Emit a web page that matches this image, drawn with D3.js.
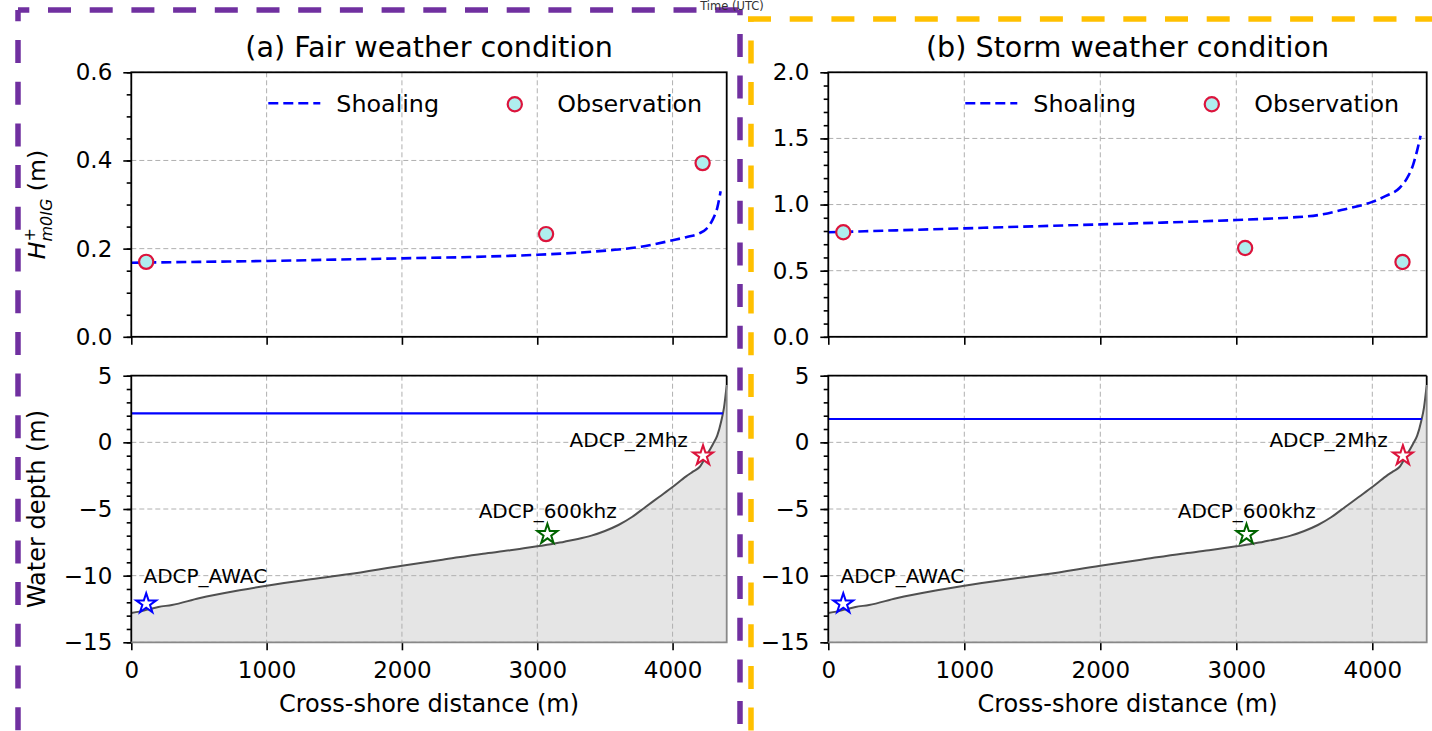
<!DOCTYPE html>
<html>
<head>
<meta charset="utf-8">
<script src="https://cdn.jsdelivr.net/npm/d3@7"></script>
<style>
  body { margin: 0; background: #fff; }
  svg { display: block; font-family: "DejaVu Sans", sans-serif; }
</style>
</head>
<body>
<div id="fig"></div>
<script>
// beach profile along the transect
var bathyX = [0, 60, 120, 200, 300, 500, 800, 1000, 1300, 1600, 2000, 2300, 2600, 2800, 2900, 3000, 3100, 3200, 3300, 3400, 3500, 3600, 3700, 3800, 3900, 4000, 4100, 4150, 4200, 4250, 4300, 4330, 4360, 4380, 4400];
var bathyZ = [-12.8, -12.7, -12.55, -12.35, -12.2, -11.7, -11.1, -10.75, -10.3, -9.9, -9.25, -8.8, -8.35, -8.1, -7.95, -7.8, -7.65, -7.45, -7.25, -7.0, -6.65, -6.2, -5.6, -4.85, -4.1, -3.35, -2.55, -2.2, -1.85, -1.0, -0.1, 0.5, 1.6, 2.6, 4.3];

// shoaling estimate of Hm0 IG
var shoalX = [0, 500, 1000, 1500, 2000, 2500, 3000, 3200, 3400, 3600, 3800, 4000, 4100, 4200, 4250, 4300, 4330, 4355];
var shoalFair = [0.168, 0.170, 0.172, 0.175, 0.178, 0.181, 0.186, 0.189, 0.193, 0.198, 0.206, 0.219, 0.226, 0.235, 0.245, 0.268, 0.292, 0.33];
var shoalStorm = [0.79, 0.805, 0.82, 0.835, 0.85, 0.865, 0.883, 0.892, 0.902, 0.92, 0.965, 1.02, 1.065, 1.125, 1.19, 1.30, 1.41, 1.52];

// observed Hm0 IG at the three ADCPs
var obsX = [110, 3065, 4222];
var obsFair = [0.17, 0.233, 0.394];
var obsStorm = [0.79, 0.672, 0.566];

var waterLevel = [2.17, 1.75];

var instNames = ["ADCP_AWAC", "ADCP_600khz", "ADCP_2Mhz"];
var instX = [110, 3075, 4225];
var instZ = [-12.1, -6.9, -1.0];
var instColors = ["blue", "darkgreen", "crimson"];
var labelX = [90, 3077, 4113];
var labelZ = [-10.55, -5.68, -0.33];
var labelAnchor = ["start", "middle", "end"];

var panelTitles = ["(a) Fair weather condition", "(b) Storm weather condition"];
var xTicks = [0, 1000, 2000, 3000, 4000];
var hTicks = [[0, 0.2, 0.4, 0.6], [0, 0.5, 1.0, 1.5, 2.0]];
var hMinor = [0.05, 0.1];
var depthTicks = [-15, -10, -5, 0, 5];

var width = 1432;
var height = 731;
var xMax = 4400;
var colLeft = [131.3, 828.3];
var colRight = [726.7, 1426.7];
var topBox = [72.3, 336.8];
var botBox = [375.7, 642.3];
var tickFont = 23;

var svg = d3.select("#fig")
    .append("svg")
    .attr("width", width)
    .attr("height", height);

// outline frames round each column
function dashedLine(x1, y1, x2, y2, color, offset) {
  svg.append("line")
      .attr("x1", x1).attr("y1", y1)
      .attr("x2", x2).attr("y2", y2)
      .attr("stroke", color)
      .attr("stroke-width", 5.5)
      .attr("stroke-dasharray", "23,18.7")
      .attr("stroke-dashoffset", offset);
}
dashedLine(18, 10, 740, 10, "#7030a0", 11.7);
dashedLine(18, 10, 18, 760, "#7030a0", 11.7);
dashedLine(740, 10, 740, 760, "#7030a0", 17.8);
dashedLine(748, 19, 1440, 19, "#ffc000", 0);
dashedLine(751, 19, 751, 760, "#ffc000", 20.3);

svg.append("text")
    .attr("x", 732)
    .attr("y", 10)
    .attr("text-anchor", "middle")
    .attr("font-size", 11.5)
    .attr("fill", "#333")
    .text("Time (UTC)");

function gridLines(g, x, y, xs, ys, x0, x1, y0, y1) {
  var grid = g.append("g")
      .attr("stroke", "#b0b0b0")
      .attr("stroke-width", 1)
      .attr("stroke-dasharray", "5,3");
  xs.forEach(function(t) {
    grid.append("line").attr("x1", x(t)).attr("x2", x(t)).attr("y1", y0).attr("y2", y1);
  });
  ys.forEach(function(t) {
    grid.append("line").attr("x1", x0).attr("x2", x1).attr("y1", y(t)).attr("y2", y(t));
  });
}

function styleAxis(g) {
  g.select(".domain").remove();
  g.selectAll(".tick line").attr("stroke", "#000").attr("stroke-width", 1.6);
  g.selectAll(".tick text").attr("font-size", tickFont).attr("fill", "#000")
      .attr("font-family", "DejaVu Sans");
}

function minorTicks(min, max, step) {
  var out = [];
  var n = Math.round((max - min) / step);
  for (var k = 0; k <= n; k++) out.push(min + k * step);
  return out;
}

function drawPanel(i) {
  var left = colLeft[i];
  var right = colRight[i];
  var x = d3.scaleLinear().domain([0, xMax]).range([left, right]);

  // ---- wave height panel ----
  var hMax = hTicks[i][hTicks[i].length - 1];
  var yH = d3.scaleLinear().domain([0, hMax]).range([topBox[1], topBox[0]]);
  var top = svg.append("g");

  gridLines(top, x, yH, xTicks, hTicks[i], left, right, topBox[0], topBox[1]);

  var shoal = i === 0 ? shoalFair : shoalStorm;
  var shoalLine = d3.line()
      .x(function(d, k) { return x(shoalX[k]); })
      .y(function(d) { return yH(d); })
      .curve(d3.curveMonotoneX);
  top.append("path")
      .attr("d", shoalLine(shoal))
      .attr("fill", "none")
      .attr("stroke", "blue")
      .attr("stroke-width", 2.6)
      .attr("stroke-dasharray", "10,5");

  var obs = i === 0 ? obsFair : obsStorm;
  top.selectAll("circle.obs")
      .data(obs)
      .enter()
      .append("circle")
      .attr("class", "obs")
      .attr("cx", function(d, k) { return x(obsX[k]); })
      .attr("cy", function(d) { return yH(d); })
      .attr("r", 7.1)
      .attr("fill", "#afeeee")
      .attr("stroke", "crimson")
      .attr("stroke-width", 2.2);

  // legend
  var ly = topBox[0] + 31;
  top.append("line")
      .attr("x1", left + 137).attr("x2", left + 189)
      .attr("y1", ly).attr("y2", ly)
      .attr("stroke", "blue")
      .attr("stroke-width", 2.6)
      .attr("stroke-dasharray", "10,5");
  top.append("text")
      .attr("x", left + 205).attr("y", ly + 8.5)
      .attr("font-size", 23.8)
      .text("Shoaling");
  top.append("circle")
      .attr("cx", left + 383.5).attr("cy", ly + 1)
      .attr("r", 7.1)
      .attr("fill", "#afeeee")
      .attr("stroke", "crimson")
      .attr("stroke-width", 2.2);
  top.append("text")
      .attr("x", left + 426).attr("y", ly + 8.5)
      .attr("font-size", 23.8)
      .text("Observation");

  var hAxis = top.append("g")
      .attr("transform", "translate(" + left + ",0)")
      .call(d3.axisLeft(yH).tickValues(hTicks[i]).tickFormat(d3.format(".1f"))
          .tickSize(8).tickPadding(11));
  styleAxis(hAxis);
  var hMinorAxis = top.append("g")
      .attr("transform", "translate(" + left + ",0)")
      .call(d3.axisLeft(yH).tickValues(minorTicks(0, hMax, hMinor[i])).tickFormat("").tickSize(4.6));
  styleAxis(hMinorAxis);
  var topX = top.append("g")
      .attr("transform", "translate(0," + topBox[1] + ")")
      .call(d3.axisBottom(x).tickValues(xTicks).tickFormat("").tickSize(8));
  styleAxis(topX);

  top.append("rect")
      .attr("x", left).attr("y", topBox[0])
      .attr("width", right - left).attr("height", topBox[1] - topBox[0])
      .attr("fill", "none")
      .attr("stroke", "#000")
      .attr("stroke-width", 1.8);

  top.append("text")
      .attr("x", (left + right) / 2)
      .attr("y", 57)
      .attr("text-anchor", "middle")
      .attr("font-size", 28.6)
      .text(panelTitles[i]);

  // ---- bathymetry panel ----
  var yZ = d3.scaleLinear().domain([-15, 5]).range([botBox[1], botBox[0]]);
  var bot = svg.append("g");

  var bedArea = d3.area()
      .x(function(d, k) { return x(bathyX[k]); })
      .y0(yZ(-15))
      .y1(function(d) { return yZ(d); })
      .curve(d3.curveMonotoneX);
  bot.append("path")
      .attr("d", bedArea(bathyZ))
      .attr("fill", "#e5e5e5");

  gridLines(bot, x, yZ, xTicks, depthTicks, left, right, botBox[0], botBox[1]);

  var bedLine = d3.line()
      .x(function(d, k) { return x(bathyX[k]); })
      .y(function(d) { return yZ(d); })
      .curve(d3.curveMonotoneX);
  bot.append("path")
      .attr("d", bedLine(bathyZ))
      .attr("fill", "none")
      .attr("stroke", "#505050")
      .attr("stroke-width", 2);

  // mean water level runs until it meets the bed
  var wl = waterLevel[i];
  var xEnd = xMax;
  for (var k = 1; k < bathyX.length; k++) {
    if (bathyZ[k] >= wl) {
      var f = (wl - bathyZ[k - 1]) / (bathyZ[k] - bathyZ[k - 1]);
      xEnd = bathyX[k - 1] + f * (bathyX[k] - bathyX[k - 1]);
      break;
    }
  }
  bot.append("line")
      .attr("x1", x(0)).attr("x2", x(xEnd))
      .attr("y1", yZ(wl)).attr("y2", yZ(wl))
      .attr("stroke", "blue")
      .attr("stroke-width", 2.2);

  var star = d3.symbol().type(d3.symbolStar).size(124);
  bot.selectAll("path.inst")
      .data(instNames)
      .enter()
      .append("path")
      .attr("class", "inst")
      .attr("d", star)
      .attr("transform", function(d, k) {
        return "translate(" + x(instX[k]) + "," + yZ(instZ[k]) + ")";
      })
      .attr("fill", "#fff")
      .attr("stroke", function(d, k) { return instColors[k]; })
      .attr("stroke-width", 2);

  bot.selectAll("text.inst")
      .data(instNames)
      .enter()
      .append("text")
      .attr("class", "inst")
      .attr("x", function(d, k) { return x(labelX[k]); })
      .attr("y", function(d, k) { return yZ(labelZ[k]); })
      .attr("text-anchor", function(d, k) { return labelAnchor[k]; })
      .attr("font-size", 20)
      .text(function(d) { return d; });

  var zAxis = bot.append("g")
      .attr("transform", "translate(" + left + ",0)")
      .call(d3.axisLeft(yZ).tickValues(depthTicks).tickFormat(d3.format("d"))
          .tickSize(8).tickPadding(11));
  styleAxis(zAxis);
  var zMinorAxis = bot.append("g")
      .attr("transform", "translate(" + left + ",0)")
      .call(d3.axisLeft(yZ).tickValues(minorTicks(-15, 5, 1)).tickFormat("").tickSize(4.6));
  styleAxis(zMinorAxis);
  var botX = bot.append("g")
      .attr("transform", "translate(0," + botBox[1] + ")")
      .call(d3.axisBottom(x).tickValues(xTicks).tickFormat(d3.format("d"))
          .tickSize(8).tickPadding(11));
  styleAxis(botX);

  // spines: bed fill edge greys the bottom and right sides
  bot.append("path")
      .attr("d", "M" + left + "," + botBox[1] + "V" + botBox[0] + "H" + right)
      .attr("fill", "none")
      .attr("stroke", "#000")
      .attr("stroke-width", 1.8);
  bot.append("path")
      .attr("d", "M" + right + "," + botBox[0] + "V" + yZ(bathyZ[bathyZ.length - 1]))
      .attr("fill", "none")
      .attr("stroke", "#000")
      .attr("stroke-width", 1.8);
  bot.append("path")
      .attr("d", "M" + right + "," + yZ(bathyZ[bathyZ.length - 1]) + "V" + botBox[1] + "H" + left)
      .attr("fill", "none")
      .attr("stroke", "#888")
      .attr("stroke-width", 1.8);

  bot.append("text")
      .attr("x", (left + right) / 2)
      .attr("y", 712)
      .attr("text-anchor", "middle")
      .attr("font-size", 24)
      .text("Cross-shore distance (m)");
}

drawPanel(0);
drawPanel(1);

// y labels on the left column only
var hLabel = svg.append("text")
    .attr("transform", "translate(45," + (topBox[0] + topBox[1]) / 2 + ") rotate(-90)")
    .attr("text-anchor", "middle")
    .attr("font-size", 23.5);
hLabel.append("tspan").attr("font-style", "italic").text("H");
hLabel.append("tspan").attr("font-size", 16).attr("dy", -10).text("+");
hLabel.append("tspan").attr("font-size", 16).attr("font-style", "italic")
    .attr("dx", -13.4).attr("dy", 17).text("m0IG");
hLabel.append("tspan").attr("dy", -7).text(" (m)");

svg.append("text")
    .attr("transform", "translate(45," + (botBox[0] + botBox[1]) / 2 + ") rotate(-90)")
    .attr("text-anchor", "middle")
    .attr("font-size", 24)
    .text("Water depth (m)");
</script>
</body>
</html>
